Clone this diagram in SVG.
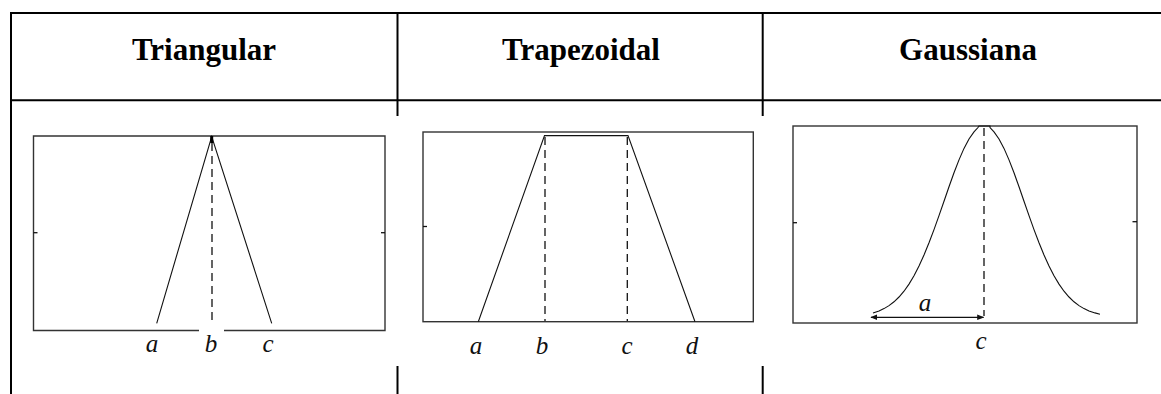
<svg xmlns="http://www.w3.org/2000/svg" width="1161" height="394" viewBox="0 0 1161 394">
<style>
.tbl{stroke:#000;stroke-width:2;fill:none}
.hdr{font-family:"Liberation Serif","Times New Roman",serif;font-weight:bold;font-size:31px;fill:#000;text-anchor:middle}
.box{fill:#fff;stroke:#333;stroke-width:1.4}
.crv{fill:none;stroke:#111;stroke-width:1.1}
.dsh{fill:none;stroke:#111;stroke-width:1.3;stroke-dasharray:8 5}
.tick{stroke:#111;stroke-width:1.3}
.lbl{font-family:"Liberation Serif","Times New Roman",serif;font-style:italic;font-size:25px;fill:#111;text-anchor:middle}
</style>
<defs>
<marker id="ah" viewBox="0 0 10 10" refX="9" refY="5" markerWidth="7" markerHeight="7" markerUnits="userSpaceOnUse" orient="auto-start-reverse">
<path d="M0,1 L10,5 L0,9 Z" fill="#111"/>
</marker>
</defs>
<rect width="1161" height="394" fill="#fff"/>
<g id="table">
<line class="tbl" x1="10" y1="13" x2="1161" y2="13"/>
<line class="tbl" x1="10" y1="100.3" x2="1161" y2="100.3"/>
<line class="tbl" x1="11" y1="12" x2="11" y2="394"/>
<line class="tbl" x1="397.5" y1="13" x2="397.5" y2="116"/>
<line class="tbl" x1="397.5" y1="366" x2="397.5" y2="394"/>
<line class="tbl" x1="762.7" y1="13" x2="762.7" y2="116"/>
<line class="tbl" x1="762.7" y1="366" x2="762.7" y2="394"/>
</g>
<g id="triangular">
<text class="hdr" x="204" y="59.5">Triangular</text>
<path class="box" d="M199,330.5 H33.5 V136 H385 V330.5 H224"/>
<line class="tick" x1="33.5" y1="232.7" x2="37.5" y2="232.7"/>
<line class="tick" x1="381" y1="232.7" x2="385" y2="232.7"/>
<polyline class="crv" points="156.7,323.3 211.7,136.5 271.7,323.3"/>
<line x1="211.7" y1="136" x2="211.7" y2="143" stroke="#000" stroke-width="3"/>
<line class="dsh" x1="212" y1="143" x2="212" y2="320"/>
<text class="lbl" x="152" y="352">a</text>
<text class="lbl" x="211" y="352">b</text>
<text class="lbl" x="268" y="352">c</text>
</g>
<g id="trapezoidal">
<text class="hdr" x="581" y="59.5">Trapezoidal</text>
<rect class="box" x="423" y="132" width="330.3" height="189.7"/>
<line class="tick" x1="423" y1="226.5" x2="427" y2="226.5"/>
<polyline class="crv" points="478.3,321.7 544.5,135.6 628,135.6 695,321.7"/>
<line class="dsh" x1="545" y1="137" x2="545" y2="321"/>
<line class="dsh" x1="627.3" y1="137" x2="627.3" y2="321"/>
<text class="lbl" x="476" y="354">a</text>
<text class="lbl" x="542" y="354">b</text>
<text class="lbl" x="627" y="354">c</text>
<text class="lbl" x="692" y="354">d</text>
</g>
<g id="gaussiana">
<text class="hdr" x="968" y="59.5">Gaussiana</text>
<rect class="box" x="793" y="126" width="344" height="197"/>
<line class="tick" x1="793" y1="222.7" x2="797" y2="222.7"/>
<line class="tick" x1="1132.5" y1="221.7" x2="1137" y2="221.7"/>
<polyline class="crv" points="873,312.9 879,310.9 884,308.6 889,305.6 894,301.8 899,297 904,291.2 909,284.1 914,275.7 919,266 924,255 929,242.8 934,229.6 939,215.6 944,201.2 949,186.8 954,172.8 959,159.9 964,148.4 969,139 974,131.9 978,127.5 979,126 990,126 990,127.5 994,131.9 999,139 1004,148.4 1009,159.9 1014,172.8 1019,186.8 1024,201.2 1029,215.6 1034,229.6 1039,242.8 1044,255 1049,266 1054,275.7 1059,284.1 1064,291.2 1069,297 1074,301.8 1079,305.6 1084,308.6 1089,310.9 1095,312.9 1100,314.2"/>
<line class="dsh" x1="984" y1="128" x2="984" y2="316"/>
<line x1="871" y1="317.3" x2="983.5" y2="317.3" stroke="#111" stroke-width="1.3" marker-start="url(#ah)" marker-end="url(#ah)"/>
<text class="lbl" x="925" y="311">a</text>
<text class="lbl" x="981" y="349">c</text>
</g>
</svg>
